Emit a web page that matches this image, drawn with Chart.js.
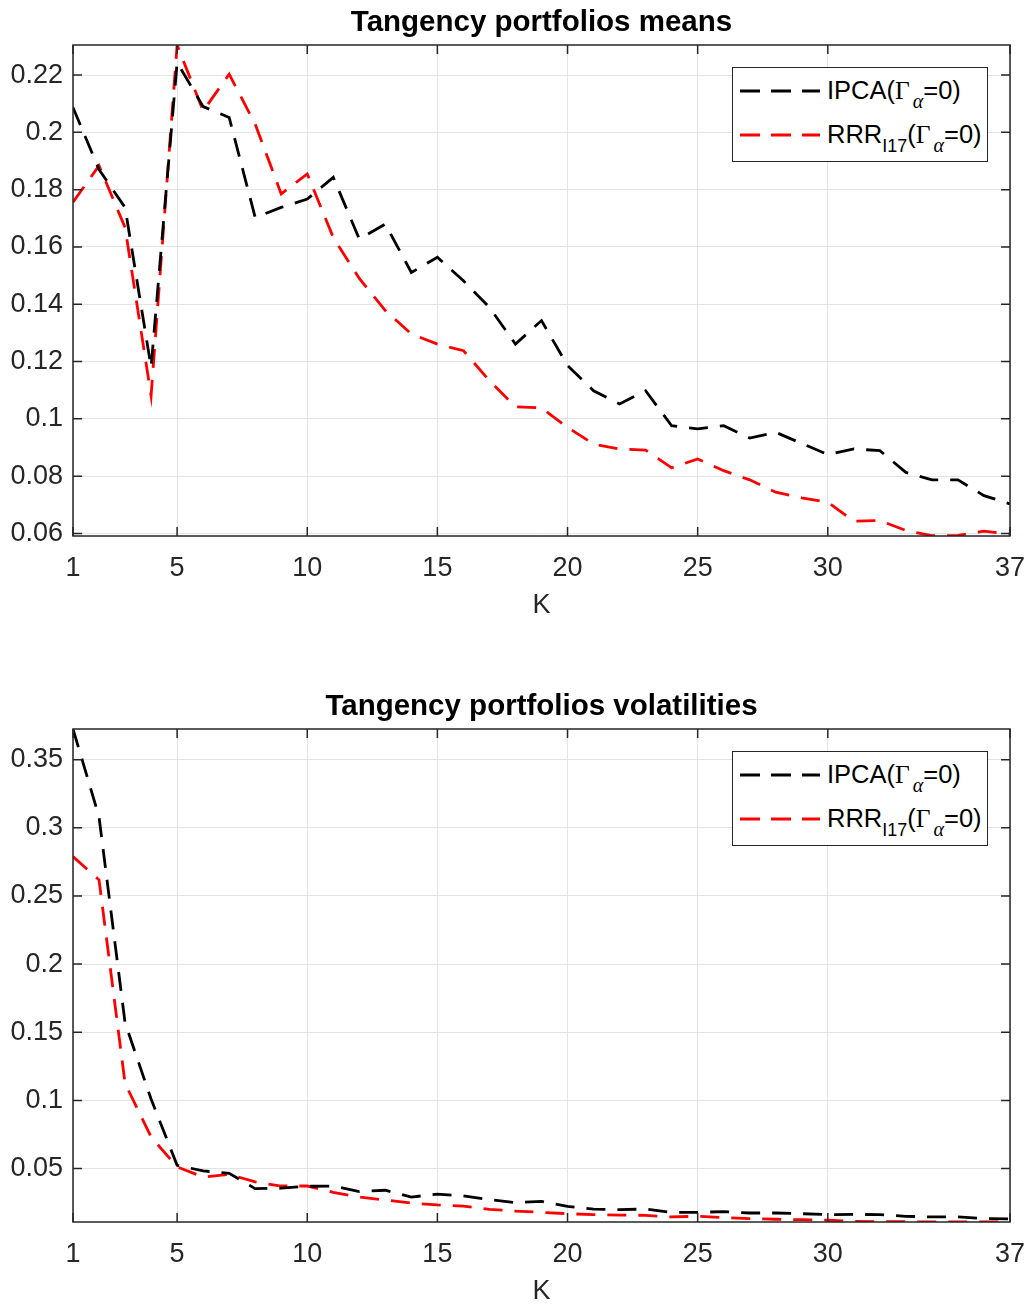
<!DOCTYPE html>
<html>
<head>
<meta charset="utf-8">
<title>Tangency portfolios</title>
<script src="https://cdn.jsdelivr.net/npm/chart.js@4.4.1/dist/chart.umd.min.js"></script>
<style>
    html, body { margin: 0; padding: 0; background: #fff; overflow: hidden; }
    body { width: 1027px; height: 1304px; position: relative; font-family: "Liberation Sans", Arial, Helvetica, sans-serif; }
    .panel { position: absolute; left: 0; width: 1027px; }
    .panel canvas { display: block; }
    .legend { position: absolute; box-sizing: border-box; border: 1px solid #262626; background: #fff; font-size: 25.5px; color: #000; }
    .legend .row { position: absolute; left: 0; height: 30px; display: flex; align-items: center; white-space: nowrap; }
    .legend svg { margin-left: 7px; margin-right: 7px; }
    .legend .gr { font-family: "Liberation Serif", "DejaVu Serif", serif; }
    .legend sub { font-size: 18px; vertical-align: -9px; line-height: 0; }
    .legend sub.gr { font-style: italic; font-size: 20px; margin-left: 3px; }
</style>
</head>
<body>
<div class="panel" id="panelMeans" style="top:0;height:640px;"><canvas id="means" width="1027" height="640"></canvas></div>
<div class="panel" id="panelVols" style="top:684px;height:642px;"><canvas id="vols" width="1027" height="642"></canvas></div>
<script>
// x values (number of factors K)
const kValues = [1, 2, 3, 4, 5, 6, 7, 8, 9, 10, 11, 12, 13, 14, 15, 16, 17, 18, 19,
    20, 21, 22, 23, 24, 25, 26, 27, 28, 29, 30, 31, 32, 33, 34, 35, 36, 37];
const kTicks = [1, 5, 10, 15, 20, 25, 30, 37];

// Tangency portfolio means
const meansIpca = [0.2087, 0.187, 0.1738, 0.118, 0.2244, 0.2090, 0.2052, 0.1703, 0.1738, 0.1767,
    0.1843, 0.1628, 0.1680, 0.1511, 0.1564, 0.1482, 0.1389, 0.1261, 0.1343, 0.1186,
    0.1098, 0.1052, 0.1098, 0.0976, 0.0965, 0.0976, 0.0933, 0.0953, 0.0914, 0.0875,
    0.0895, 0.0889, 0.0813, 0.0787, 0.0787, 0.0732, 0.0703];
const meansRrr = [0.1756, 0.1884, 0.1668, 0.1081, 0.2305, 0.2075, 0.2203, 0.2029, 0.1785, 0.1855,
    0.1633, 0.1490, 0.1378, 0.1296, 0.1261, 0.1238, 0.1133, 0.1042, 0.1038, 0.0970,
    0.0912, 0.0895, 0.0891, 0.0829, 0.0860, 0.0819, 0.0787, 0.0744, 0.0724, 0.0709,
    0.0643, 0.0645, 0.0610, 0.0592, 0.0593, 0.0608, 0.0598];
const meansTicks = [0.06, 0.08, 0.1, 0.12, 0.14, 0.16, 0.18, 0.2, 0.22];
const meansRange = [0.0591, 0.2305];

// Tangency portfolio volatilities
const volsIpca = [0.3725, 0.308, 0.157, 0.101, 0.0524, 0.0483, 0.0465, 0.0353, 0.0356, 0.0370,
    0.0372, 0.0331, 0.0341, 0.0291, 0.0313, 0.0299, 0.0272, 0.0250, 0.0260, 0.0223,
    0.0203, 0.0199, 0.0203, 0.0179, 0.0179, 0.0184, 0.0174, 0.0174, 0.0169, 0.0162,
    0.0164, 0.0162, 0.0150, 0.0145, 0.0145, 0.0133, 0.0130];
const volsRrr = [0.2789, 0.2618, 0.1125, 0.0732, 0.0512, 0.0438, 0.0458, 0.0402, 0.0372, 0.0372,
    0.0326, 0.0291, 0.0269, 0.0247, 0.0233, 0.0225, 0.0201, 0.0188, 0.0179, 0.0169,
    0.0162, 0.0159, 0.0157, 0.0145, 0.0150, 0.0140, 0.0133, 0.0128, 0.0125, 0.0121,
    0.0113, 0.0111, 0.0110, 0.0109, 0.0108, 0.0109, 0.0110];
const volsTicks = [0.05, 0.1, 0.15, 0.2, 0.25, 0.3, 0.35];
const volsRange = [0.0108, 0.3725];

const FONT = '"Liberation Sans", Arial, Helvetica, sans-serif';
const AXIS = '#262626';
const GRID = '#e3e3e3';
const TICK_LEN = 9;
const DASH = [19, 12];

const ipcaLegend = 'IPCA(<span class="gr">&Gamma;</span><sub class="gr">&alpha;</sub>=0)';
const rrrLegend = 'RRR<sub>I17</sub>(<span class="gr">&Gamma;</span><sub class="gr">&alpha;</sub>=0)';

function toPoints(values) {
    return values.map((v, i) => ({ x: kValues[i], y: v }));
}

// MATLAB-like box with inward tick marks
const axesBox = {
    id: 'axesBox',
    afterDraw(chart) {
        const { ctx, chartArea: a, scales } = chart;
        ctx.save();
        ctx.strokeStyle = AXIS;
        ctx.lineWidth = 1.5;
        ctx.strokeRect(a.left, a.top, a.width, a.height);
        ctx.beginPath();
        scales.x.ticks.forEach((t) => {
            const px = scales.x.getPixelForValue(t.value);
            ctx.moveTo(px, a.bottom);
            ctx.lineTo(px, a.bottom - TICK_LEN);
            ctx.moveTo(px, a.top);
            ctx.lineTo(px, a.top + TICK_LEN);
        });
        scales.y.ticks.forEach((t) => {
            const py = scales.y.getPixelForValue(t.value);
            ctx.moveTo(a.left, py);
            ctx.lineTo(a.left + TICK_LEN, py);
            ctx.moveTo(a.right, py);
            ctx.lineTo(a.right - TICK_LEN, py);
        });
        ctx.stroke();
        ctx.restore();
    },
};

// HTML legend so the subscripts stay real text
const htmlLegend = {
    id: 'htmlLegend',
    afterUpdate(chart) {
        const panel = chart.canvas.parentNode;
        let box = panel.querySelector('.legend');
        if (!box) {
            box = document.createElement('div');
            box.className = 'legend';
            panel.appendChild(box);
        }
        const a = chart.chartArea;
        box.style.width = '256px';
        box.style.height = '95px';
        box.style.left = (a.right - 22 - 256) + 'px';
        box.style.top = (a.top + 22) + 'px';
        box.innerHTML = chart.data.datasets.map((ds, i) => {
            const line = `<svg width="80" height="10"><line x1="0" y1="5" x2="80" y2="5" stroke="${ds.borderColor}" stroke-width="2.8" stroke-dasharray="20 11"/></svg>`;
            return `<div class="row" style="top:${8 + i * 44}px">${line}<span>${ds.legendHtml}</span></div>`;
        }).join('');
    },
};

function makeChart(canvasId, title, ipca, rrr, yTicks, yRange) {
    const tickFont = { family: FONT, size: 27 };
    return new Chart(document.getElementById(canvasId), {
        type: 'line',
        data: {
            datasets: [
                { label: 'IPCA', legendHtml: ipcaLegend, data: toPoints(ipca), borderColor: '#000000', borderWidth: 2.8, borderDash: DASH, pointRadius: 0, tension: 0, fill: false },
                { label: 'RRR', legendHtml: rrrLegend, data: toPoints(rrr), borderColor: '#ff0000', borderWidth: 2.8, borderDash: DASH, pointRadius: 0, tension: 0, fill: false },
            ],
        },
        options: {
            responsive: false,
            animation: false,
            layout: { padding: { left: 0, right: 17, top: 0, bottom: 0 } },
            plugins: {
                legend: { display: false },
                tooltip: { enabled: false },
                title: {
                    display: true,
                    fullSize: false,
                    text: title,
                    color: '#000',
                    font: { family: FONT, size: 29.5, weight: 'bold' },
                    padding: { top: 5, bottom: 4.6 },
                },
            },
            scales: {
                x: {
                    type: 'linear',
                    min: 1,
                    max: 37,
                    afterBuildTicks: (s) => { s.ticks = kTicks.map((v) => ({ value: v })); },
                    afterFit: (s) => { s.height = 104; s.paddingLeft = 0; s.paddingRight = 0; },
                    grid: { color: GRID, drawTicks: false },
                    border: { display: false },
                    ticks: { color: AXIS, font: tickFont, padding: 16, maxRotation: 0, autoSkip: false, callback: (v) => String(v) },
                    title: { display: true, text: 'K', color: AXIS, font: tickFont, padding: { top: 0, bottom: 18 } },
                },
                y: {
                    min: yRange[0],
                    max: yRange[1],
                    afterBuildTicks: (s) => { s.ticks = yTicks.map((v) => ({ value: v })); },
                    afterFit: (s) => { s.width = 73; s.paddingTop = 0; s.paddingBottom = 0; },
                    grid: { color: GRID, drawTicks: false },
                    border: { display: false },
                    ticks: { color: AXIS, font: tickFont, padding: 10, autoSkip: false, callback: (v) => String(+v.toFixed(2)) },
                },
            },
        },
        plugins: [axesBox, htmlLegend],
    });
}

makeChart('means', 'Tangency portfolios means', meansIpca, meansRrr, meansTicks, meansRange);
makeChart('vols', 'Tangency portfolios volatilities', volsIpca, volsRrr, volsTicks, volsRange);
</script>
</body>
</html>
